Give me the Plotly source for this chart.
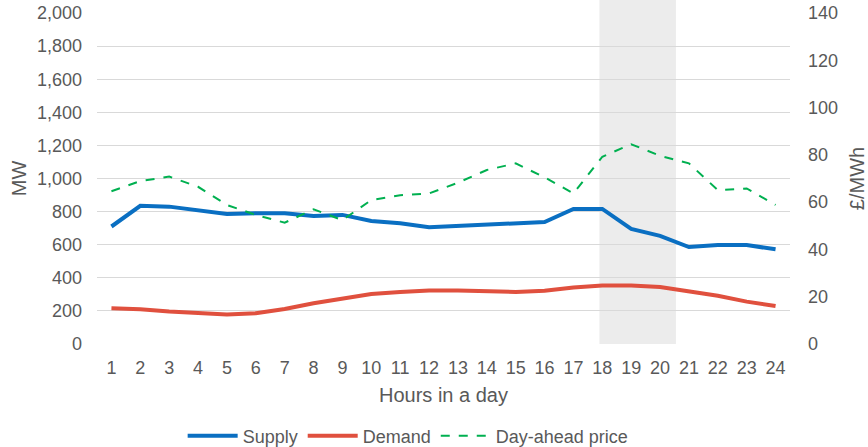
import plotly.graph_objects as go

hours = list(range(1, 25))
supply = [710, 835, 830, 810, 785, 790, 790, 773, 780, 743, 729, 705, 713, 723, 727, 737,
          816, 816, 695, 653, 586, 598, 598, 572]
demand = [216, 210, 197, 187, 179, 186, 211, 246, 276, 302, 314, 324, 324, 322, 314, 322,
          342, 354, 354, 344, 318, 292, 256, 230]
price = [64.6, 68.9, 70.8, 66.5, 58.8, 54.6, 51.3, 57.0, 52.4, 60.9, 62.9, 63.7, 68.2, 73.6,
         76.4, 70.5, 63.7, 79.2, 84.5, 79.6, 76.4, 65.1, 65.8, 58.8]
shade_start, shade_end = 17.9, 20.55

font = "Liberation Sans, Arial, Helvetica, sans-serif"
grey = "#595959"

fig = go.Figure()
fig.add_trace(go.Scatter(x=hours, y=supply, name="Supply", mode="lines",
                         line=dict(color="#0a6fc2", width=4)))
fig.add_trace(go.Scatter(x=hours, y=demand, name="Demand", mode="lines",
                         line=dict(color="#e0503e", width=4)))
fig.add_trace(go.Scatter(x=hours, y=price, name="Day-ahead price", mode="lines",
                         line=dict(color="#00b050", width=2, dash="dash"), yaxis="y2"))

fig.add_shape(type="rect", xref="x", yref="paper", x0=shade_start, x1=shade_end,
              y0=0, y1=1 + 13 / 331, fillcolor="#ececec", line_width=0, layer="below")

fig.update_layout(
    width=868, height=447,
    margin=dict(l=96.5, r=77.5, t=13, b=103, autoexpand=False),
    paper_bgcolor="white", plot_bgcolor="white",
    font=dict(family=font, color=grey, size=18),
    showlegend=True,
    legend=dict(orientation="h", x=0.449, xanchor="center", y=-0.278, yanchor="middle",
                font=dict(size=18, color=grey), itemwidth=50, traceorder="normal",
                bgcolor="rgba(0,0,0,0)"),
    xaxis=dict(range=[0.5, 24.5], tickmode="array", tickvals=hours,
               ticktext=[str(h) for h in hours], showgrid=False, zeroline=False,
               showline=False, ticks="", ticklabelstandoff=11, automargin=False,
               tickfont=dict(size=18),
               title=dict(text="Hours in a day", font=dict(size=20, color=grey), standoff=10)),
    yaxis=dict(range=[0, 2000], dtick=200, tickformat=",", showgrid=True,
               gridcolor="#d9d9d9", gridwidth=1, zeroline=False, showline=False,
               ticks="", ticklabelstandoff=14, automargin=False, tickfont=dict(size=18),
               title=dict(text="MW", font=dict(size=20, color=grey), standoff=4)),
    yaxis2=dict(range=[0, 140], dtick=20, overlaying="y", side="right", showgrid=False,
                zeroline=False, showline=False, ticks="", ticklabelstandoff=17,
                automargin=False, tickfont=dict(size=18),
                title=dict(text="£/MWh", font=dict(size=20, color=grey), standoff=25)),
)

fig.write_html("out.html", config={"displayModeBar": False},
               post_script="document.body.style.margin='0';document.body.style.overflow='hidden';")
